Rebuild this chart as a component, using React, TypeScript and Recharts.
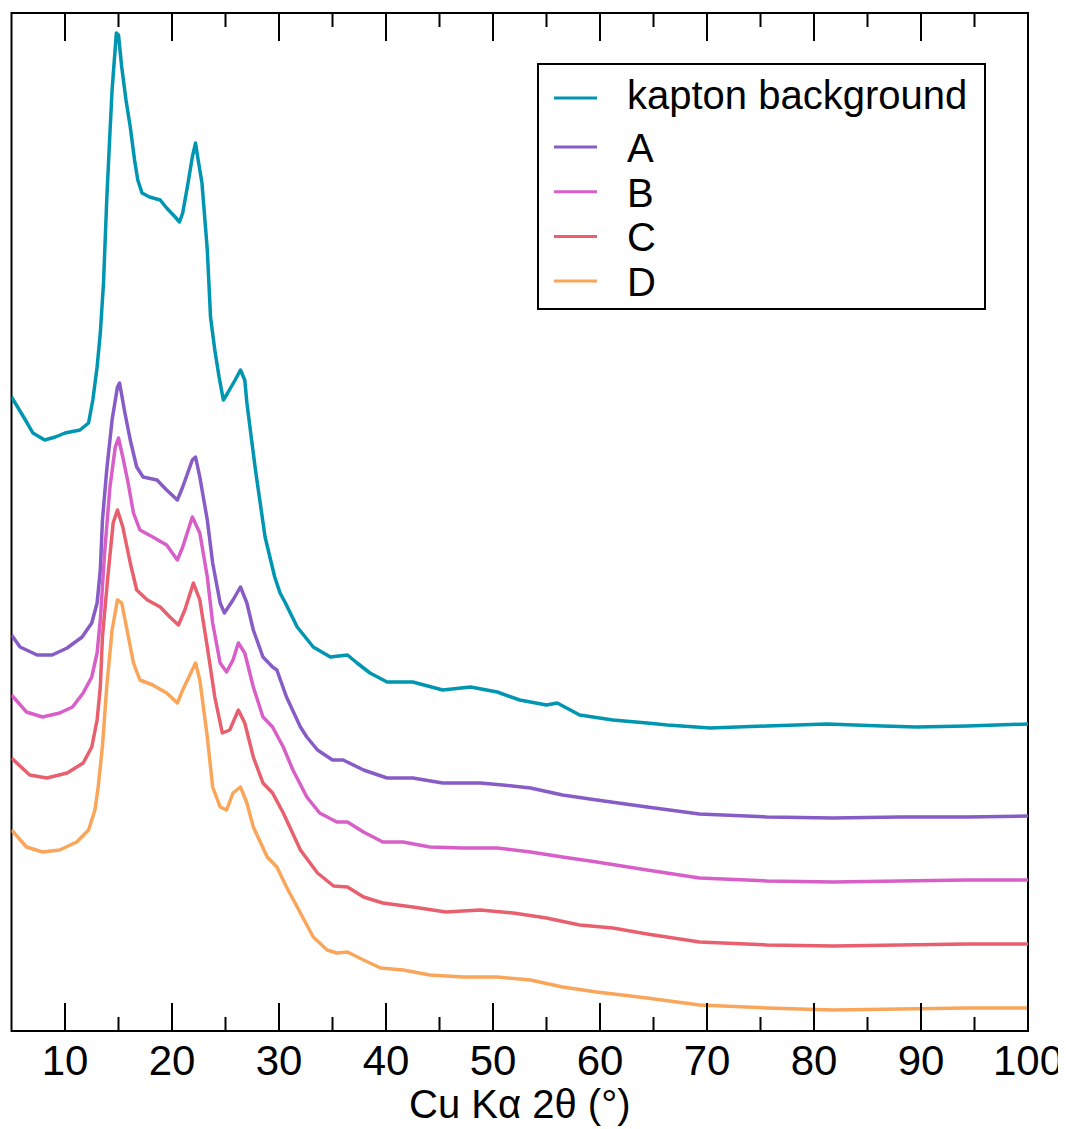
import React from "react";
import { LineChart, Line, XAxis, YAxis, ReferenceArea, Legend, Label } from "recharts";

const kaptonX = [5.0, 6.3, 7.0, 8.1, 9.1, 10.0, 11.4, 12.2, 12.6, 13.0, 13.3, 13.6, 13.9, 14.2, 14.4, 14.8, 15.0, 15.3, 15.7, 16.1, 16.5, 16.8, 17.2, 17.9, 18.9, 19.5, 20.3, 20.7, 21.0, 21.5, 21.9, 22.2, 22.4, 22.8, 23.3, 23.6, 24.0, 24.4, 24.8, 25.2, 25.9, 26.4, 26.8, 27.0, 27.8, 28.7, 29.6, 30.1, 30.6, 31.7, 33.2, 34.8, 36.4, 37.3, 38.5, 40.1, 42.5, 45.3, 47.9, 50.4, 52.5, 55.0, 56.0, 58.1, 61.2, 64.4, 66.3, 70.3, 75.6, 81.2, 86.4, 89.6, 94.3, 100];
const kaptonY = [634, 611, 598, 591, 594, 598, 601, 608, 631, 664, 698, 748, 831, 898, 941, 998, 996, 964, 931, 904, 871, 851, 838, 834, 831, 823, 814, 809, 818, 848, 874, 888, 874, 848, 781, 714, 681, 654, 631, 638, 651, 661, 651, 628, 561, 494, 454, 438, 428, 404, 384, 374, 376, 368, 358, 349, 349, 341, 344, 339, 331, 326, 328, 316, 311, 308, 306, 303, 305, 307, 305, 304, 305, 307];

const aX = [5.0, 5.8, 7.4, 8.8, 10.2, 11.6, 12.5, 13.0, 13.3, 13.5, 13.9, 14.4, 14.9, 15.1, 15.6, 16.1, 16.7, 17.3, 18.6, 19.5, 20.5, 21.0, 21.9, 22.2, 22.6, 23.3, 23.8, 24.5, 24.9, 25.7, 26.4, 27.0, 27.6, 28.5, 29.4, 29.8, 30.7, 32.0, 32.6, 33.6, 35.0, 36.0, 37.9, 40.1, 42.5, 45.3, 48.8, 50.9, 53.5, 56.5, 59.7, 64.4, 69.3, 75.6, 81.8, 88.0, 94.3, 100];
const aY = [396, 384, 376, 376, 383, 394, 408, 428, 461, 511, 561, 611, 644, 648, 618, 591, 564, 554, 551, 541, 531, 544, 571, 574, 554, 511, 468, 428, 418, 431, 444, 428, 401, 374, 364, 361, 334, 304, 294, 281, 271, 271, 261, 253, 253, 248, 248, 246, 243, 236, 231, 224, 217, 214, 213, 214, 214, 215];

const bX = [5.0, 6.4, 7.9, 9.5, 10.7, 11.7, 12.5, 13.0, 13.3, 13.7, 14.2, 14.7, 15.0, 15.4, 15.9, 16.4, 17.0, 18.2, 19.5, 20.5, 21.0, 21.9, 22.6, 23.3, 23.8, 24.5, 25.1, 25.7, 26.2, 26.8, 27.6, 28.5, 29.4, 30.4, 31.3, 32.6, 33.8, 35.4, 36.4, 37.9, 39.7, 41.6, 44.1, 47.2, 50.4, 53.5, 56.5, 59.7, 64.4, 69.3, 75.6, 81.8, 88.0, 94.3, 100];
const bY = [336, 319, 314, 318, 324, 338, 354, 378, 411, 478, 544, 584, 593, 574, 548, 518, 501, 494, 486, 471, 484, 514, 498, 454, 408, 368, 359, 371, 388, 378, 344, 314, 304, 284, 261, 234, 218, 209, 209, 199, 189, 189, 184, 183, 183, 179, 174, 169, 161, 153, 150, 149, 150, 151, 151];

const cX = [5.0, 6.7, 8.3, 10.2, 11.7, 12.5, 13.0, 13.3, 13.5, 14.0, 14.5, 14.9, 15.4, 16.1, 16.7, 17.7, 18.9, 19.8, 20.6, 21.2, 22.0, 22.6, 23.3, 24.0, 24.7, 25.4, 26.2, 26.8, 27.6, 28.5, 29.4, 30.4, 32.0, 33.6, 35.1, 36.4, 37.9, 39.7, 42.5, 45.6, 48.8, 51.9, 55.0, 58.1, 61.2, 64.4, 69.3, 75.6, 81.8, 88.0, 94.3, 100];
const cY = [273, 256, 253, 258, 268, 284, 311, 344, 394, 454, 508, 521, 504, 468, 441, 431, 424, 414, 406, 421, 448, 431, 384, 334, 298, 301, 321, 308, 274, 248, 238, 218, 181, 158, 145, 144, 134, 128, 124, 119, 121, 118, 113, 106, 103, 97, 89, 86, 85, 86, 87, 87];

const dX = [5.0, 6.4, 7.9, 9.5, 11.1, 12.2, 12.8, 13.1, 13.5, 13.9, 14.4, 14.9, 15.3, 15.8, 16.4, 17.0, 18.2, 19.5, 20.5, 21.0, 22.2, 22.6, 23.3, 23.8, 24.5, 25.1, 25.7, 26.4, 27.0, 27.6, 28.9, 29.8, 30.7, 32.0, 33.2, 34.5, 35.4, 36.4, 37.9, 39.5, 41.6, 44.1, 47.2, 50.4, 53.5, 56.5, 59.7, 64.4, 69.3, 75.6, 81.8, 88.0, 94.3, 100];
const dY = [201, 184, 179, 181, 189, 201, 221, 244, 285, 344, 401, 431, 428, 401, 368, 351, 346, 338, 328, 341, 368, 351, 294, 244, 224, 221, 238, 244, 228, 204, 174, 164, 144, 118, 94, 81, 78, 79, 71, 63, 61, 56, 54, 54, 51, 44, 39, 33, 26, 23, 21, 22, 23, 23];

const seriesNames = ["kapton background", "A", "B", "C", "D"];
const seriesColors = ["#0096b1", "#875cc6", "#d85fc8", "#e8606e", "#f9a65b"];
const xTicks = [10, 15, 20, 25, 30, 35, 40, 45, 50, 55, 60, 65, 70, 75, 80, 85, 90, 95, 100];
const xTitle = "Cu Kα 2θ (°)";

const build = (xs: number[], ys: number[]) => xs.map((x, i) => ({ x, v: ys[i] }));
const seriesData = [
  build(kaptonX, kaptonY),
  build(aX, aY),
  build(bX, bY),
  build(cX, cY),
  build(dX, dY),
];

const FONT = "'Liberation Sans', Arial, Helvetica, sans-serif";

const BottomTick = (props: any) => {
  const { x, y, payload } = props;
  const major = payload.value % 10 === 0;
  return (
    <g>
      <line x1={x} x2={x} y1={y} y2={y - (major ? 28 : 14)} stroke="#000" strokeWidth={2} />
      {major && (
        <text x={x} y={y + 44} textAnchor="middle" fontSize={42} fontFamily={FONT} fill="#000">
          {payload.value}
        </text>
      )}
    </g>
  );
};

const TopTick = (props: any) => {
  const { x, y, payload } = props;
  const major = payload.value % 10 === 0;
  return <line x1={x} x2={x} y1={y} y2={y + (major ? 28 : 14)} stroke="#000" strokeWidth={2} />;
};

const LegendBox = () => (
  <svg width={450} height={248} style={{ display: "block" }}>
    <rect x={1} y={1} width={447} height={245} fill="#fff" stroke="#000" strokeWidth={2} />
    {seriesNames.map((name, i) => {
      const ly = i === 0 ? 35 : 84 + (i - 1) * 44.7;
      const ty = i === 0 ? 46 : 99 + (i - 1) * 44.5;
      return (
        <g key={name}>
          <line x1={17} x2={60} y1={ly} y2={ly} stroke={seriesColors[i]} strokeWidth={3} />
          <text x={90} y={ty} fontSize={40} fontFamily={FONT} fill="#000">
            {name}
          </text>
        </g>
      );
    })}
  </svg>
);

export default function App() {
  return (
    <div style={{ width: 1058, height: 1121 }}>
      <LineChart width={1058} height={1121} margin={{ top: 0, left: 3.5, right: 38, bottom: 0 }}>
        <XAxis
          xAxisId={0}
          type="number"
          dataKey="x"
          domain={[5, 100]}
          ticks={xTicks}
          interval={0}
          allowDataOverflow
          height={98}
          tickSize={0}
          tickMargin={0}
          tickLine={false}
          axisLine={false}
          tick={<BottomTick />}
        >
          <Label value={xTitle} position="insideBottom" offset={11} fontSize={40} fontFamily={FONT} fill="#000" />
        </XAxis>
        <XAxis
          xAxisId="top"
          orientation="top"
          type="number"
          dataKey="x"
          domain={[5, 100]}
          ticks={xTicks}
          interval={0}
          allowDataOverflow
          height={5}
          tickSize={0}
          tickMargin={0}
          tickLine={false}
          axisLine={false}
          tick={<TopTick />}
        />
        <YAxis type="number" domain={[0, 1018]} hide allowDataOverflow />
        <ReferenceArea x1={5} x2={100} y1={0} y2={1018} fill="none" stroke="#000" strokeWidth={2} ifOverflow="visible" />
        {seriesData.map((d, i) => (
          <Line
            key={seriesNames[i]}
            data={d}
            dataKey="v"
            name={seriesNames[i]}
            type="linear"
            stroke={seriesColors[i]}
            strokeWidth={3.5}
            dot={false}
            activeDot={false}
            isAnimationActive={false}
            strokeLinejoin="round"
          />
        ))}
        <Legend
          layout="vertical"
          align="center"
          verticalAlign="middle"
          content={<LegendBox />}
          wrapperStyle={{ position: "absolute", left: 529, top: 55, width: 450, height: 248 }}
        />
      </LineChart>
    </div>
  );
}
